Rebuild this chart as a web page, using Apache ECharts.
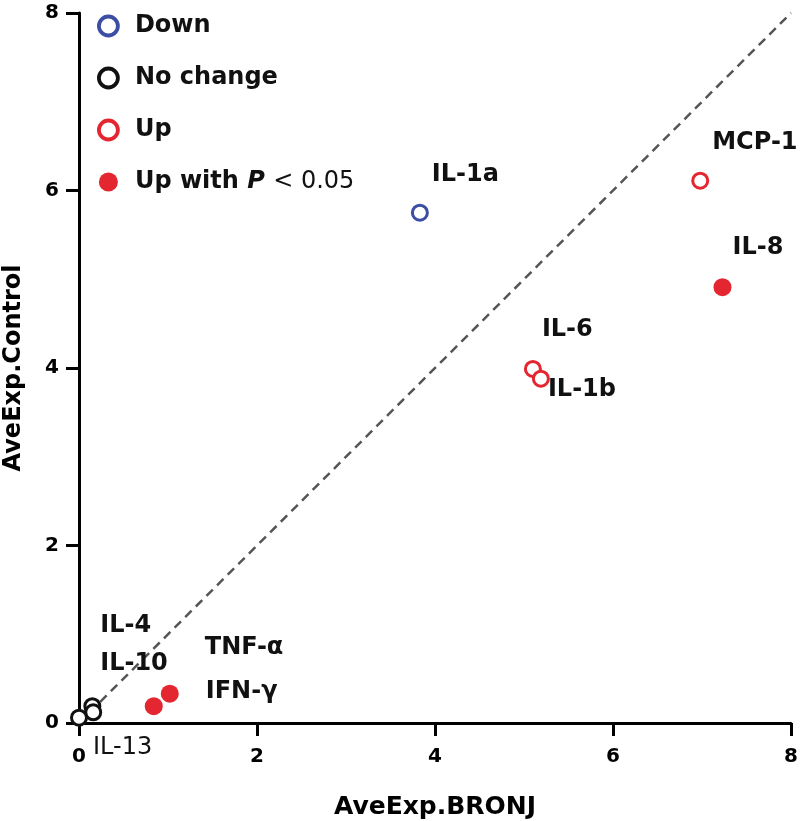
<!DOCTYPE html>
<html>
<head>
<meta charset="utf-8">
<script src="https://cdn.jsdelivr.net/npm/echarts@6/dist/echarts.min.js"></script>
<style>html,body{margin:0;padding:0;background:#fff}#c{width:800px;height:821px}</style>
</head>
<body>
<div id="c"></div>
<script>
// ---- data ----
const xTicks = [0, 2, 4, 6, 8];
const yTicks = [0, 2, 4, 6, 8];
const downNames = ['IL-1a'];
const downX = [3.83];
const downY = [5.75];
const noChangeNames = ['IL-4', 'IL-10', 'IL-13'];
const noChangeX = [0.15, 0.16, 0.0];
const noChangeY = [0.19, 0.12, 0.06];
const upNames = ['MCP-1', 'IL-6', 'IL-1b'];
const upX = [6.98, 5.10, 5.19];
const upY = [6.11, 3.99, 3.88];
const upSigNames = ['IL-8', 'TNF-α', 'IFN-γ'];
const upSigX = [7.23, 1.02, 0.84];
const upSigY = [4.91, 0.33, 0.19];
const identityLine = [0, 8];

// ---- label placement (styling, not data) ----
const labelOffsets = {
  'IL-1a': [12, -38], 'MCP-1': [12, -38], 'IL-8': [10, -39], 'IL-6': [9, -39],
  'IL-1b': [7, 11], 'TNF-α': [35, -46], 'IFN-γ': [52, -14],
  'IL-4': [8, -80], 'IL-10': [7, -49], 'IL-13': [14, 30]
};
const FONT = 'DejaVu Sans';
const BLUE = '#3b4ea3', RED = '#e3262f', BLACK = '#111';

function pts(names, xs, ys) {
  return names.map((n, i) => ({
    name: n,
    value: [xs[i], ys[i]],
    label: {
      offset: labelOffsets[n],
      fontWeight: n === 'IL-13' ? 'normal' : 'bold'
    }
  }));
}
const baseLabel = {
  show: true, position: 'inside', align: 'left', verticalAlign: 'middle',
  formatter: p => p.name, color: '#111', fontSize: 24, fontFamily: FONT
};
function scatter(name, data, color, filled, z) {
  return {
    name, type: 'scatter', data, z,
    symbol: 'circle', symbolSize: filled ? 18 : 15,
    itemStyle: filled ? { color: color, opacity: 1 } : { color: '#fff', borderColor: color, borderWidth: 3, opacity: 1 },
    label: baseLabel,
    emphasis: { disabled: true }
  };
}

const chart = echarts.init(document.getElementById('c'), null, { renderer: 'canvas' });
const axisCommon = {
  type: 'value', min: 0, max: 8, interval: 2,
  axisLine: { show: true, onZero: false, lineStyle: { color: '#000', width: 3 } },
  axisTick: { show: true, inside: false, length: 13, lineStyle: { color: '#000', width: 3 } },
  splitLine: { show: false },
  axisLabel: { color: '#000', fontSize: 20, fontWeight: 'bold', fontFamily: FONT, showMinLabel: true, showMaxLabel: true, hideOverlap: false },
  nameLocation: 'middle',
  nameTextStyle: { color: '#000', fontSize: 24, fontWeight: 'bold', fontFamily: FONT }
};
chart.setOption({
  animation: false,
  backgroundColor: '#fff',
  grid: { left: 79, right: 9, top: 13, bottom: 98, containLabel: false, outerBoundsMode: 'none' },
  xAxis: Object.assign({}, axisCommon, {
    name: 'AveExp.BRONJ', nameGap: 72,
    axisLabel: Object.assign({}, axisCommon.axisLabel, { margin: 24 }),
    nameTextStyle: Object.assign({}, axisCommon.nameTextStyle, { fontSize: 25 })
  }),
  yAxis: Object.assign({}, axisCommon, {
    name: 'AveExp.Control', nameGap: 53, nameRotate: 90,
    axisLabel: Object.assign({}, axisCommon.axisLabel, { margin: 20 })
  }),
  legend: {
    orient: 'vertical', left: 97, top: 14, padding: 0,
    itemWidth: 19, itemHeight: 19, itemGap: 28,
    selectedMode: false,
    textStyle: {
      color: '#111', fontSize: 24, fontWeight: 'bold', fontFamily: FONT,
      padding: [0, 0, 0, 12], lineHeight: 24,
      rich: { i: { fontStyle: 'italic', fontWeight: 'bold', fontSize: 24, fontFamily: FONT, color: '#111' },
              n: { fontWeight: 'normal', fontSize: 24, fontFamily: FONT, color: '#111' } }
    },
    formatter: n => n === 'Up with P < 0.05' ? 'Up with {i|P} {n|< 0.05}' : n,
    data: [
      { name: 'Down', icon: 'circle', itemStyle: { color: '#fff', borderColor: BLUE, borderWidth: 3.8 } },
      { name: 'No change', icon: 'circle', itemStyle: { color: '#fff', borderColor: BLACK, borderWidth: 3.8 } },
      { name: 'Up', icon: 'circle', itemStyle: { color: '#fff', borderColor: RED, borderWidth: 3.8 } },
      { name: 'Up with P < 0.05', icon: 'circle', itemStyle: { color: RED } }
    ]
  },
  series: [
    {
      type: 'line', data: identityLine.map(v => [v, v]), symbol: 'none', silent: true, z: 1,
      lineStyle: { color: '#555', width: 2.5, type: [9, 6] }
    },
    scatter('Down', pts(downNames, downX, downY), BLUE, false, 3),
    scatter('No change', pts(noChangeNames, noChangeX, noChangeY), BLACK, false, 3),
    scatter('Up', pts(upNames, upX, upY), RED, false, 3),
    scatter('Up with P < 0.05', pts(upSigNames, upSigX, upSigY), RED, true, 3)
  ]
});
</script>
</body>
</html>
